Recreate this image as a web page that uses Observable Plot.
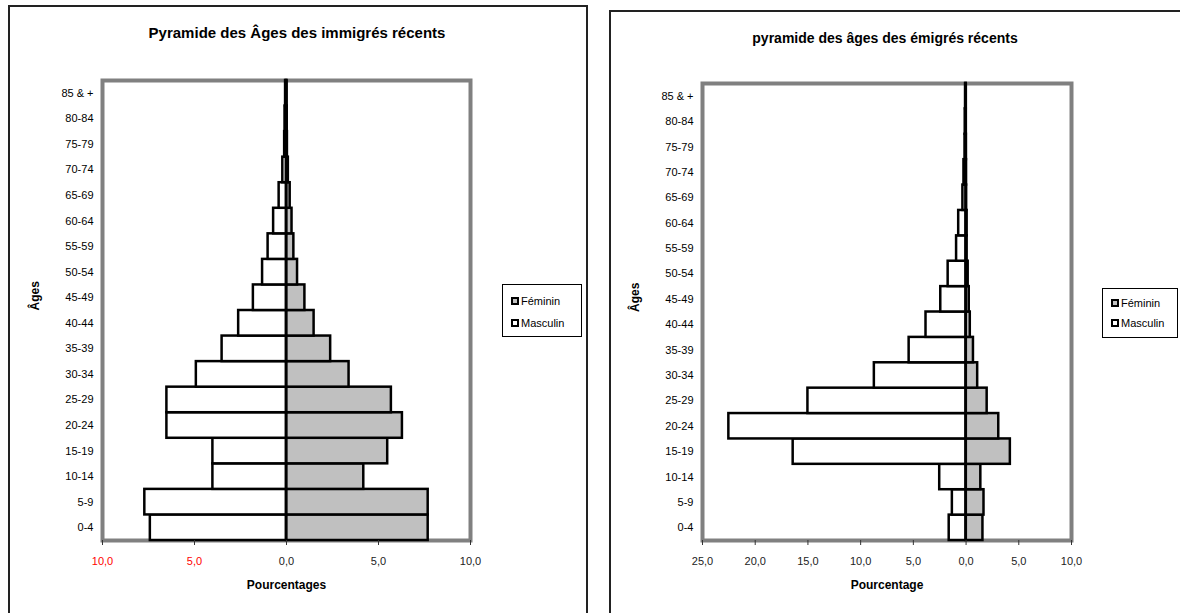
<!DOCTYPE html>
<html lang="fr">
<head>
<meta charset="utf-8">
<title>Pyramides des âges</title>
<script src="https://cdn.jsdelivr.net/npm/d3@7"></script>
<script src="https://cdn.jsdelivr.net/npm/@observablehq/plot@0.6"></script>
<style>
  html, body { margin: 0; padding: 0; background: #fff; }
  body {
    width: 1180px; height: 613px; position: relative; overflow: hidden;
    font-family: "Liberation Sans", Arial, sans-serif; color: #000;
  }
  .box { position: absolute; border: 2px solid #222; box-sizing: border-box; }
  .title {
    position: absolute; font-weight: bold; white-space: nowrap;
    transform: translate(-50%, -50%);
  }
  .plot { position: absolute; top: 0; }
  .legend {
    position: absolute; border: 1px solid #000; box-sizing: border-box;
    font-size: 11px; background: #fff;
  }
  .legend .item {
    position: absolute; left: 8px; display: flex; align-items: center;
    transform: translateY(-50%); white-space: nowrap;
  }
  .legend .swatch {
    width: 4px; height: 4px; border: 2px solid #000; margin-right: 2px;
  }
</style>
</head>
<body>
<div class="box" style="left:8px; top:5px; width:580px; height:700px;"></div>
<div class="box" style="left:609px; top:10px; width:600px; height:700px;"></div>
<div id="chart-immigres"></div>
<div id="chart-emigres"></div>
<script>
// Groupes d'âge, du plus jeune au plus âgé
const ages = ["0-4", "5-9", "10-14", "15-19", "20-24", "25-29", "30-34", "35-39", "40-44",
  "45-49", "50-54", "55-59", "60-64", "65-69", "70-74", "75-79", "80-84", "85 & +"];

const sexes = ["Féminin", "Masculin"];
const sexColors = ["#c0c0c0", "#ffffff"];

// Immigrés récents (% par groupe d'âge)
const immigresMasculin = [7.4, 7.7, 4.0, 4.0, 6.5, 6.5, 4.9, 3.5, 2.6, 1.8, 1.3, 1.0, 0.7, 0.4, 0.2, 0.1, 0.08, 0.05];
const immigresFeminin  = [7.7, 7.7, 4.2, 5.5, 6.3, 5.7, 3.4, 2.4, 1.5, 1.0, 0.6, 0.4, 0.3, 0.2, 0.1, 0.05, 0.04, 0.03];

// Émigrés récents (% par groupe d'âge)
const emigresMasculin = [1.6, 1.3, 2.5, 16.4, 22.5, 15.0, 8.7, 5.4, 3.8, 2.4, 1.7, 0.9, 0.7, 0.3, 0.2, 0.1, 0.08, 0.05];
const emigresFeminin  = [1.6, 1.7, 1.4, 4.2, 3.1, 2.0, 1.1, 0.7, 0.4, 0.3, 0.2, 0.1, 0.1, 0.05, 0.04, 0.03, 0.02, 0.02];

// Graduations de l'axe des pourcentages
const immigresTicks = [-10, -5, 0, 5, 10];
const immigresRedTicks = [-10, -5];
const emigresTicks = [-25, -20, -15, -10, -5, 0, 5, 10];

const fontFamily = '"Liberation Sans", Arial, sans-serif';
const fmt = d => Math.abs(d).toFixed(1).replace(".", ",");

function pyramid({masculin, feminin, domain, ticks, redTicks, width, height, margins, xLabel}) {
  const rows = ages.flatMap((age, i) => [
    {age, sexe: "Masculin", value: -masculin[i]},
    {age, sexe: "Féminin", value: feminin[i]}
  ]);
  const plainTicks = ticks.filter(t => !redTicks.includes(t));
  return Plot.plot({
    width, height, ...margins,
    style: {fontFamily, fontSize: "11px", color: "#000", background: "transparent", overflow: "visible"},
    x: {domain, label: null},
    y: {domain: ages.slice().reverse(), padding: 0, round: false, label: null},
    color: {domain: sexes, range: sexColors},
    marks: [
      Plot.frame({stroke: "#808080", strokeWidth: 4}),
      Plot.barX(rows, {x: "value", y: "age", fill: "sexe", stroke: "#000", strokeWidth: 2.5}),
      Plot.ruleX([0], {stroke: "#000", strokeWidth: 2}),
      Plot.axisY({tickSize: 0, tickPadding: 9, label: null, fontSize: 11}),
      Plot.axisX(plainTicks, {tickFormat: fmt, tickSize: 5, tickPadding: 12, label: null,
        stroke: "#333", fill: "#222", fontSize: 11}),
      redTicks.length
        ? Plot.axisX(redTicks, {tickFormat: fmt, tickSize: 5, tickPadding: 12, label: null,
            stroke: "#333", fill: "#ff0000", fontSize: 11})
        : null,
      Plot.text([xLabel], {frameAnchor: "bottom", dy: 48, fontWeight: "bold", fontSize: 12}),
      Plot.text(["Âges"], {frameAnchor: "left", dx: -67, rotate: -90, fontWeight: "bold", fontSize: 12})
    ]
  });
}

function legend(left, top, width, height, rowsY) {
  const div = document.createElement("div");
  div.className = "legend";
  Object.assign(div.style, {left: left + "px", top: top + "px", width: width + "px", height: height + "px"});
  sexes.forEach((s, i) => {
    const item = document.createElement("div");
    item.className = "item";
    item.style.top = rowsY[i] + "px";
    const sw = document.createElement("span");
    sw.className = "swatch";
    sw.style.background = sexColors[i];
    item.appendChild(sw);
    item.appendChild(document.createTextNode(s));
    div.appendChild(item);
  });
  return div;
}

function title(text, cx, cy, size) {
  const div = document.createElement("div");
  div.className = "title";
  div.textContent = text;
  Object.assign(div.style, {left: cx + "px", top: cy + "px", fontSize: size + "px"});
  return div;
}

// Pyramide des immigrés récents
const left = document.getElementById("chart-immigres");
const p1 = pyramid({
  masculin: immigresMasculin, feminin: immigresFeminin,
  domain: [-10, 10], ticks: immigresTicks, redTicks: immigresRedTicks,
  width: 588, height: 613,
  margins: {marginLeft: 102, marginRight: 118, marginTop: 80, marginBottom: 73},
  xLabel: "Pourcentages"
});
p1.classList.add("plot");
p1.style.left = "0px";
left.appendChild(p1);
left.appendChild(title("Pyramide des Âges des immigrés récents", 297, 32, 15));
left.appendChild(legend(502, 284, 80, 53, [16, 38]));

// Pyramide des émigrés récents
const right = document.getElementById("chart-emigres");
const p2 = pyramid({
  masculin: emigresMasculin, feminin: emigresFeminin,
  domain: [-25, 10], ticks: emigresTicks, redTicks: [],
  width: 580, height: 613,
  margins: {marginLeft: 102, marginRight: 109, marginTop: 83, marginBottom: 73},
  xLabel: "Pourcentage"
});
p2.classList.add("plot");
p2.style.left = "600px";
right.appendChild(p2);
right.appendChild(title("pyramide des âges des émigrés récents", 885, 38, 14));
right.appendChild(legend(1102, 288, 76, 50, [14, 34]));
</script>
</body>
</html>
